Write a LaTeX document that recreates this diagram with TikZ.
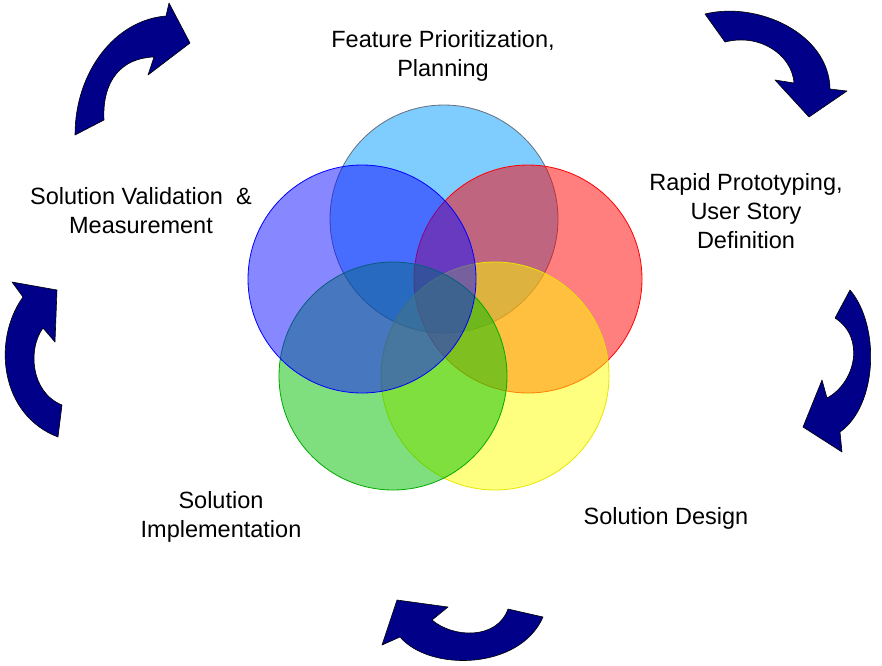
\documentclass[tikz,border=0pt]{standalone}
\usepackage{fontspec}
\setmainfont{Liberation Sans}
\definecolor{skyfill}{RGB}{0,153,255}
\definecolor{skyline}{RGB}{100,112,128}
\definecolor{redfill}{RGB}{255,0,0}
\definecolor{yellowfill}{RGB}{255,255,0}
\definecolor{yellowline}{RGB}{230,230,0}
\definecolor{greenfill}{RGB}{0,192,0}
\definecolor{greenline}{RGB}{0,170,0}
\definecolor{violetfill}{RGB}{16,16,255}
\definecolor{navy}{RGB}{0,0,136}
\tikzset{
  petal/.style={circle, minimum size=228pt, inner sep=0pt, fill opacity=0.5, line width=0.8pt},
  phase/.style={align=center, font=\fontsize{23.5}{29}\selectfont},
  cyclearrow/.style={fill=navy, draw=black, line width=0.6pt, line join=round}
}

\begin{document}
\begin{tikzpicture}[x=1pt,y=-1pt]
    \useasboundingbox (0,0) rectangle (882,665);

    \node[petal, fill=skyfill, draw=skyline] (plan) at (444,219) {};
    \node[petal, fill=redfill, draw=red] (proto) at (528,279) {};
    \node[petal, fill=yellowfill, draw=yellowline] (design) at (495,376) {};
    \node[petal, fill=greenfill, draw=greenline] (impl) at (393,376) {};
    \node[petal, fill=violetfill, draw=blue] (valid) at (362,279) {};

    \node[phase] (plantext) at (443,56) {Feature Prioritization,\\Planning};
    \node[phase] (prototext) at (746,211) {Rapid Prototyping,\\User Story\\Definition};
    \node[phase] (designtext) at (666,518) {Solution Design};
    \node[phase] (impltext) at (221,517) {Solution\\Implementation};
    \node[phase] (validtext) at (141,211) {Solution Validation~~\&\\Measurement};

    \filldraw[cyclearrow] (75,135) .. controls (75,72) and (115,20) .. (166,16)
        -- (169,3) -- (190,43) -- (148,75) -- (154,57)
        .. controls (122,58) and (102,80) .. (104,120) -- cycle;
    \filldraw[cyclearrow] (705,14) .. controls (757,1) and (829,33) .. (830,89)
        -- (847,91) -- (809,117) -- (775,80) -- (794,83)
        .. controls (792,55) and (760,33) .. (725,42) -- cycle;
    \filldraw[cyclearrow] (850,290) .. controls (880,325) and (878,405) .. (840,432)
        -- (842,452) -- (803,427) -- (822,380) -- (827,398)
        .. controls (855,383) and (866,338) .. (835,318) -- cycle;
    \filldraw[cyclearrow] (543,617) .. controls (520,670) and (430,672) .. (400,637)
        -- (382,645) -- (397,600) -- (448,607) -- (432,620)
        .. controls (453,638) and (497,640) .. (508,609) -- cycle;
    \filldraw[cyclearrow] (58,437) .. controls (0,415) and (-8,340) .. (23,297)
        -- (12,282) -- (57,290) -- (55,342) -- (43,328)
        .. controls (28,348) and (30,392) .. (62,405) -- cycle;
\end{tikzpicture}
\end{document}
